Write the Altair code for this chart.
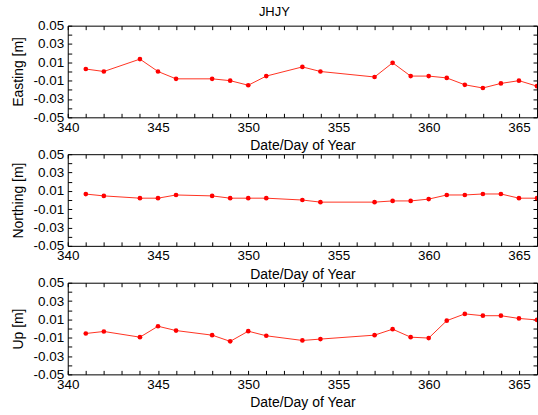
import altair as alt
import pandas as pd

days = [341, 342, 344, 345, 346, 348, 349, 350, 351, 353, 354, 357, 358, 359, 360,
        361, 362, 363, 364, 365, 366]
easting = [0.0027, 0.0000, 0.0135, 0.0000, -0.0080, -0.0080, -0.0100, -0.0150, -0.0050,
           0.0050, 0.0000, -0.0060, 0.0095, -0.0050, -0.0050, -0.0070, -0.0145, -0.0180,
           -0.0130, -0.0100, -0.0160]
northing = [0.0065, 0.0045, 0.0020, 0.0020, 0.0055, 0.0045, 0.0020, 0.0020, 0.0020,
            0.0000, -0.0023, -0.0023, -0.0010, -0.0010, 0.0010, 0.0055, 0.0055, 0.0066,
            0.0066, 0.0020, 0.0020]
up = [-0.0054, -0.0032, -0.0094, 0.0025, -0.0022, -0.0072, -0.0140, -0.0029, -0.0079,
      -0.0130, -0.0115, -0.0072, -0.0007, -0.0094, -0.0104, 0.0086, 0.0160, 0.0140,
      0.0140, 0.0110, 0.0094]

x_ticks = list(range(340, 367))
y_ticks = [-0.05, -0.04, -0.03, -0.02, -0.01, 0.0, 0.01, 0.02, 0.03, 0.04, 0.05]
x_domain = [340, 366]
y_domain = [-0.05, 0.05]

FONT = "Liberation Sans"
W, H = 471, 92

y_label_expr = ("abs(round(datum.value*100)) % 2 == 1 ? "
                "(datum.value < 0 ? '-' : '') + format(abs(datum.value), '.2f') : ''")
x_label_expr = "datum.value % 5 == 0 ? format(datum.value, 'd') : ''"


def panel(values, ytitle):
    df = pd.DataFrame({"day": days, "val": values})
    base = alt.Chart(df)
    xs = alt.Scale(domain=x_domain, nice=False, zero=False)
    ys = alt.Scale(domain=y_domain, nice=False, zero=False)
    line = base.mark_line(color="#ff3322", strokeWidth=1, clip=True).encode(
        x=alt.X("day:Q", scale=xs, title="Date/Day of Year",
                axis=alt.Axis(orient="bottom", values=x_ticks, labelExpr=x_label_expr,
                              offset=-4, tickSize=4, tickColor="black", domain=False,
                              grid=False, labelOverlap=False, labelFlush=False,
                              labelPadding=3, titlePadding=5,
                              labelFont=FONT, labelFontSize=13.5, labelColor="black",
                              titleFont=FONT, titleFontSize=14, titleFontWeight="normal",
                              titleColor="black")),
        y=alt.Y("val:Q", scale=ys, title=ytitle,
                axis=alt.Axis(orient="left", values=y_ticks, labelExpr=y_label_expr,
                              offset=-4, tickSize=4, tickColor="black", domain=False,
                              grid=False, labelOverlap=False, labelFlush=False,
                              labelPadding=4, titlePadding=8,
                              labelFont=FONT, labelFontSize=13.5, labelColor="black",
                              titleFont=FONT, titleFontSize=14, titleFontWeight="normal",
                              titleColor="black")),
    )
    pts = base.mark_point(color="#ff0000", filled=True, size=22, opacity=1, clip=True).encode(
        x=alt.X("day:Q", scale=xs, title=None,
                axis=alt.Axis(orient="top", values=x_ticks, labels=False, offset=-4,
                              tickSize=4, tickColor="black", domain=False, grid=False)),
        y=alt.Y("val:Q", scale=ys, title=None,
                axis=alt.Axis(orient="right", values=y_ticks, labels=False, offset=-4,
                              tickSize=4, tickColor="black", domain=False, grid=False)),
    )
    return (alt.layer(line, pts)
            .resolve_axis(x="independent", y="independent")
            .properties(width=W, height=H))


chart = alt.vconcat(
    panel(easting, "Easting [m]"),
    panel(northing, "Northing [m]"),
    panel(up, "Up [m]"),
    spacing=37,
    bounds="flush",
).properties(
    title=alt.Title("JHJY", font=FONT, fontSize=13, fontWeight="normal", color="black",
                    anchor="middle", offset=-1),
    padding={"left": 10, "top": 5, "right": 0, "bottom": 0},
    background="white",
).configure_view(stroke="black", strokeWidth=1)

chart.save("out.html", embed_options={"renderer": "svg", "actions": False})
